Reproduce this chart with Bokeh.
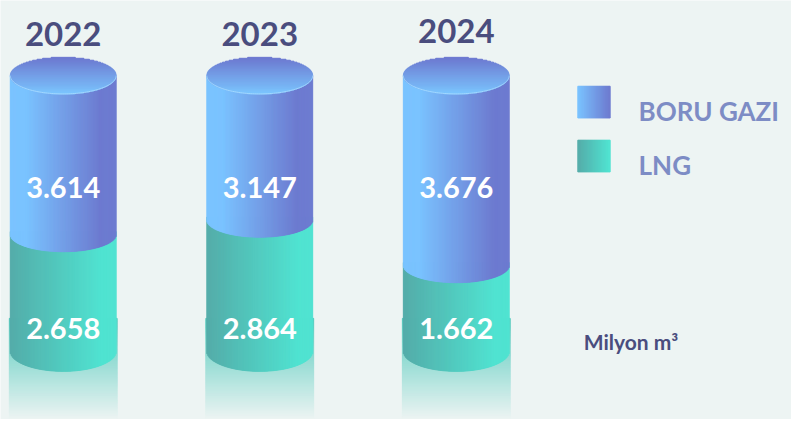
import numpy as np
from bokeh.plotting import figure
from bokeh.models import ColumnDataSource, Range1d
from bokeh.embed import file_html
from bokeh.resources import INLINE
from bokeh.core.properties import value

# ---------------- data ----------------
years = ["2022", "2023", "2024"]
boru_gazi = [3614, 3147, 3676]   # Milyon m³
lng = [2658, 2864, 1662]         # Milyon m³
series_names = ["BORU GAZI", "LNG"]
unit_label = "Milyon m³"

# ---------------- layout / style (reference pixel space 807x435) ----------------
W, H = 791, 419
RW, RH = 807.0, 435.0
BG = "#edf4f3"
X0 = 64.0       # centre of first cylinder
STEP = 200.5    # distance between cylinder centres
Y0 = 71.0       # share 0 % measured from the bottom
PPU = 2.86      # px per percent
FONT = "Lato"

BLUE_L, BLUE_R = "#7ac3ff", "#6d7bd0"
TEAL_L, TEAL_R = "#54aca9", "#50e3d1"
TOP_T, TOP_B = "#6c77cf", "#7bc4fd"
DARK = "#4a4d7e"
LEG_TXT = "#7d8cc5"


def rgb(h):
    h = h.lstrip("#")
    return np.array([int(h[i:i + 2], 16) for i in (0, 2, 4)], dtype=float)


def mix(c1, c2, t):
    c = rgb(c1) * (1 - t) + rgb(c2) * t
    return "#%02x%02x%02x" % tuple(int(round(v)) for v in c)


def px2x(sx):
    return (sx - X0) / STEP


def px2y(sy):
    return ((RH - sy) - Y0) / PPU


p = figure(width=W, height=H, output_backend="svg", toolbar_location=None,
           x_range=Range1d(-X0 / STEP, (RW - X0) / STEP),
           y_range=Range1d(-Y0 / PPU, (RH - Y0) / PPU),
           x_axis_location=None, y_axis_location=None, min_border=0,
           background_fill_color=BG, border_fill_color=BG,
           outline_line_color=None)
p.grid.visible = False

RX = 54.0 / STEP
RY_TOP = 19.0 / PPU
RY_SPLIT = 18.0 / PPU
RY_BOT = 21.0 / PPU
NX = 108
dx_px = 1.0 / STEP

refl = dict(left=[], right=[], top=[], bottom=[], color=[])
lng_q = dict(left=[], right=[], top=[], bottom=[], color=[])
blue_q = dict(left=[], right=[], top=[], bottom=[], color=[])
top_q = dict(left=[], right=[], top=[], bottom=[], color=[])


def add(d, l, r, t, b, c):
    d["left"].append(l); d["right"].append(r)
    d["top"].append(t); d["bottom"].append(b); d["color"].append(c)


total = [a + b for a, b in zip(boru_gazi, lng)]
lng_share = [100.0 * l / t for l, t in zip(lng, total)]

for i, yr in enumerate(years):
    cx = float(i)
    split = lng_share[i]
    # reflection under the cylinder
    y_start = px2y(330)
    for k in range(106):
        yt = y_start - k / PPU
        yb = yt - 1.0 / PPU
        a = max(0.0, 0.95 * (1 - k / 105.0))
        add(refl, cx - RX - dx_px, cx + RX + dx_px, yt, yb, mix(BG, "#4fc9bb", a))
    # body strips
    edges = np.linspace(-RX, RX, NX + 1)
    for j in range(NX):
        l, r = edges[j], edges[j + 1]
        u = ((l + r) / 2) / RX
        t = (u + 1) / 2
        s = np.sqrt(max(0.0, 1 - u * u))
        add(lng_q, cx + l, cx + r, split + 1, -RY_BOT * s,
            mix(TEAL_L, TEAL_R, min(1, t * 1.15)))
        tb = min(1.0, max(0.0, (t - 0.15) / 0.7))
        add(blue_q, cx + l, cx + r, 100.0, split - RY_SPLIT * s,
            mix(BLUE_L, BLUE_R, tb))
    # top ellipse, vertical gradient
    n_top = int(2 * RY_TOP * PPU)
    for k in range(n_top):
        yt = 100.0 + RY_TOP - k / PPU
        yb = yt - 1.0 / PPU
        v = ((yt + yb) / 2 - 100.0) / RY_TOP
        hw = RX * np.sqrt(max(0.0, 1 - v * v))
        add(top_q, cx - hw, cx + hw, yt, yb,
            mix(TOP_T, TOP_B, k / max(1, n_top - 1)))

for d in (refl, lng_q, blue_q, top_q):
    p.quad(left="left", right="right", top="top", bottom="bottom",
           fill_color="color", line_color="color", line_width=1,
           source=ColumnDataSource(d))

# light rim along the lower edge of the top ellipse
for i in range(len(years)):
    th = np.linspace(np.pi, 2 * np.pi, 80)
    p.line(i + RX * np.cos(th), 100.0 + RY_TOP * np.sin(th),
           line_color="#a6d9ff", line_width=1, line_alpha=0.9)

# year titles
xs = list(range(len(years)))
p.text(x=xs, y=[px2y(35), px2y(35), px2y(32)], text=years, text_align="center",
       text_baseline="alphabetic", text_color=DARK, text_font=value(FONT),
       text_font_style="bold", text_font_size="33px")

fmt = lambda v: f"{v:,}".replace(",", ".")
p.text(x=xs, y=[px2y(194)] * 3, text=[fmt(v) for v in boru_gazi],
       text_align="center", text_baseline="alphabetic", text_color="white",
       text_font=value(FONT), text_font_style="bold", text_font_size="29px")
p.text(x=xs, y=[px2y(341)] * 3, text=[fmt(v) for v in lng],
       text_align="center", text_baseline="alphabetic", text_color="white",
       text_font=value(FONT), text_font_style="bold", text_font_size="29px")

# legend swatches with gradients
leg = dict(left=[], right=[], top=[], bottom=[], color=[])
for (top_px, cl, cr) in ((89, BLUE_L, BLUE_R), (145, TEAL_L, TEAL_R)):
    for j in range(33):
        add(leg, px2x(589 + j), px2x(590 + j), px2y(top_px), px2y(top_px + 33),
            mix(cl, cr, j / 32.0))
p.quad(left="left", right="right", top="top", bottom="bottom",
       fill_color="color", line_color="color", line_width=1,
       source=ColumnDataSource(leg))

p.text(x=[px2x(651)] * 2, y=[px2y(115), px2y(171)], text=series_names,
       text_align="left", text_baseline="alphabetic", text_color=LEG_TXT,
       text_font=value(FONT), text_font_style="bold", text_font_size="26px")

p.text(x=[px2x(595)], y=[px2y(354)], text=[unit_label], text_align="left",
       text_baseline="alphabetic", text_color=DARK, text_font=value(FONT),
       text_font_style="bold", text_font_size="21px")

open("out.html", "w").write(file_html(p, INLINE))
